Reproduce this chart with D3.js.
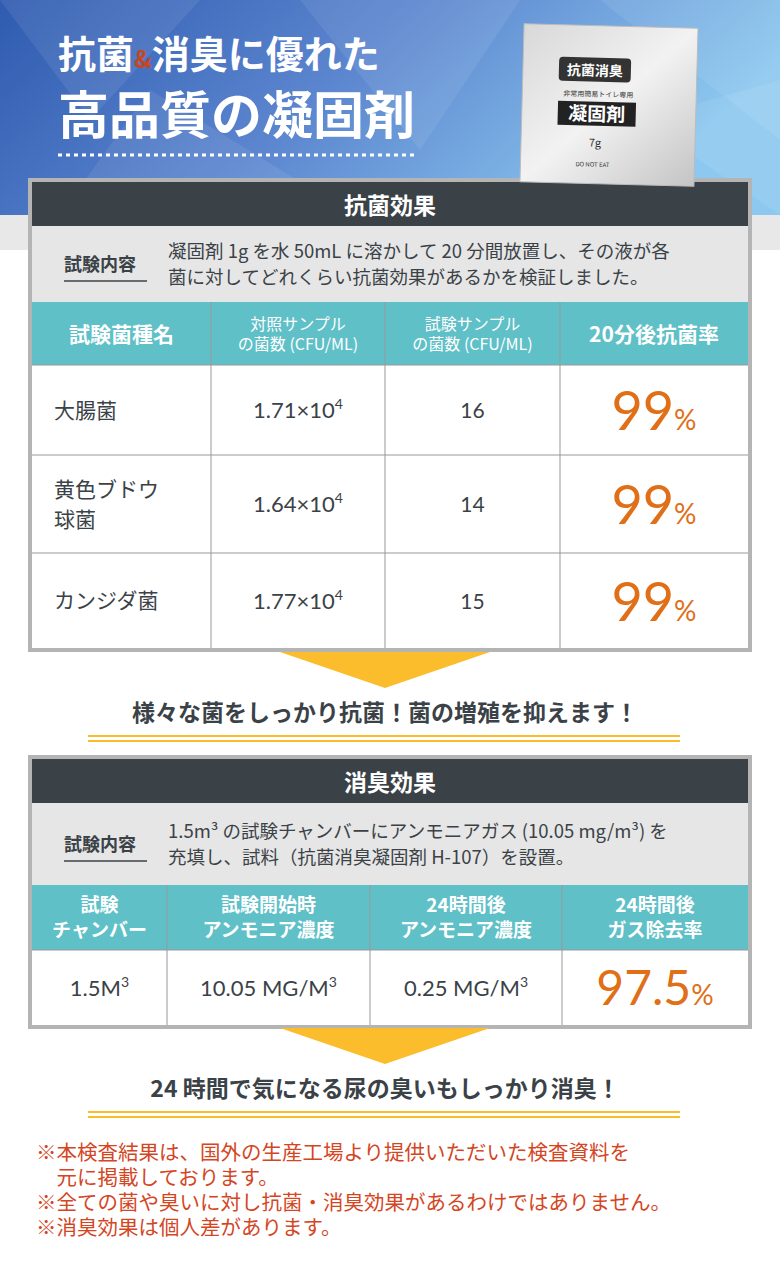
<!DOCTYPE html>
<html><head><meta charset="utf-8">
<script src="https://cdn.jsdelivr.net/npm/d3@7"></script>
<style>body{margin:0;background:#fff}svg{display:block;font-family:"Noto Sans CJK JP","Noto Sans",sans-serif}</style>
</head><body><svg id="c" width="780" height="1280"></svg>
<script>
// antibacterial table
const abHeaders = [["試験菌種名"], ["対照サンプル", "の菌数 (CFU/ML)"], ["試験サンプル", "の菌数 (CFU/ML)"], ["20分後抗菌率"]];
const bacteria = [["大腸菌"], ["黄色ブドウ", "球菌"], ["カンジダ菌"]];
const controlMantissa = ["1.71", "1.64", "1.77"];
const testCounts = ["16", "14", "15"];
const abRates = ["99", "99", "99"];
// deodorant table
const dHeaders = [["試験", "チャンバー"], ["試験開始時", "アンモニア濃度"], ["24時間後", "アンモニア濃度"], ["24時間後", "ガス除去率"]];
const dValues = ["1.5M", "10.05 MG/M", "0.25 MG/M"];
const dRate = "97.5";
const notes = ["※本検査結果は、国外の生産工場より提供いただいた検査資料を", "　元に掲載しております。", "※全ての菌や臭いに対し抗菌・消臭効果があるわけではありません。", "※消臭効果は個人差があります。"];

const svg = d3.select("#c");
const defs = svg.append("defs");
const bg = defs.append("linearGradient").attr("id", "bg").attr("x1", 0).attr("x2", 1).attr("y1", 0).attr("y2", 0.3);
bg.append("stop").attr("offset", 0).attr("stop-color", "#2f5bb0");
bg.append("stop").attr("offset", 0.5).attr("stop-color", "#5c86cf");
bg.append("stop").attr("offset", 1).attr("stop-color", "#8cc8ef");
const pk = defs.append("linearGradient").attr("id", "pk").attr("x1", 0).attr("x2", 1).attr("y1", 0).attr("y2", 1);
pk.append("stop").attr("offset", 0).attr("stop-color", "#d8d8d8");
pk.append("stop").attr("offset", 0.5).attr("stop-color", "#f2f2f2");
pk.append("stop").attr("offset", 1).attr("stop-color", "#c4c4c4");

svg.append("rect").attr("width", 780).attr("height", 250).attr("fill", "#e8e8e8");
svg.append("rect").attr("width", 780).attr("height", 215).attr("fill", "url(#bg)");
[[0,0,200,0,90,120],[300,0,520,0,420,150],[600,0,780,0,780,140],[150,90,330,200,60,215],[640,120,780,80,780,215]].forEach(p =>
  svg.append("polygon").attr("points", p.join(",")).attr("fill", "#fff").attr("opacity", 0.08));

const title1 = svg.append("text").attr("x", 58).attr("y", 68).attr("font-size", 38).attr("font-weight", 700).attr("fill", "#fff");
title1.append("tspan").text("抗菌");
title1.append("tspan").attr("fill", "#c8461e").attr("font-size", 24).text("&");
title1.append("tspan").text("消臭に優れた");
svg.append("text").attr("x", 58).attr("y", 134).attr("font-size", 51).attr("font-weight", 700).attr("fill", "#fff").text("高品質の凝固剤");
svg.append("line").attr("x1", 58).attr("x2", 416).attr("y1", 155).attr("y2", 155).attr("stroke", "#fff").attr("stroke-width", 3).attr("stroke-dasharray", "4,4");

function drawTable(y0, y1, title, descLines, descBottom, headBottom, rowEdges, colEdges) {
  svg.append("rect").attr("x", 30).attr("y", y0).attr("width", 720).attr("height", y1 - y0).attr("fill", "#fff").attr("stroke", "#b4b4b4").attr("stroke-width", 4);
  svg.append("rect").attr("x", 32).attr("y", y0 + 2).attr("width", 716).attr("height", 44).attr("fill", "#3b4247");
  svg.append("text").attr("x", 390).attr("y", y0 + 34).attr("text-anchor", "middle").attr("fill", "#fff").attr("font-size", 23).attr("font-weight", 700).text(title);
  svg.append("rect").attr("x", 32).attr("y", y0 + 46).attr("width", 716).attr("height", descBottom - y0 - 46).attr("fill", "#e6e6e6");
  const mid = (y0 + 46 + descBottom) / 2;
  svg.append("text").attr("x", 64).attr("y", mid + 7).attr("font-size", 18).attr("font-weight", 700).attr("fill", "#3b4247").text("試験内容");
  svg.append("line").attr("x1", 64).attr("x2", 147).attr("y1", mid + 17).attr("y2", mid + 17).attr("stroke", "#3b4247").attr("stroke-width", 1.5);
  descLines.forEach((t, i) => svg.append("text").attr("x", 168).attr("y", mid - 5 + (i - 0.5) * 26 + 12).attr("font-size", 18.5).attr("fill", "#3b4247").text(t));
  svg.append("rect").attr("x", 32).attr("y", descBottom).attr("width", 716).attr("height", headBottom - descBottom).attr("fill", "#5fc0c7");
  rowEdges.slice(1, -1).forEach(y => svg.append("line").attr("x1", 32).attr("x2", 748).attr("y1", y).attr("y2", y).attr("stroke", "#999"));
  colEdges.slice(1, -1).forEach(x => svg.append("line").attr("x1", x).attr("x2", x).attr("y1", descBottom).attr("y2", y1 - 2).attr("stroke", "#999"));
}
function multiline(x, yc, lines, size, color, weight, anchor, lh) {
  lines.forEach((l, i) => svg.append("text").attr("font-size", size).attr("fill", color).attr("font-weight", weight).attr("text-anchor", anchor)
    .attr("x", x).attr("y", yc + size * 0.36 + (i - (lines.length - 1) / 2) * lh).text(l));
}
function arrowAndCaption(y, text) {
  svg.append("polygon").attr("points", [[280, y], [490, y], [385, y + 36]].map(p => p.join(",")).join(" ")).attr("fill", "#fbbd2c");
  svg.append("text").attr("x", 385).attr("y", y + 69).attr("text-anchor", "middle").attr("font-size", 23).attr("font-weight", 700).attr("fill", "#3b4247").text(text);
  [y + 84, y + 89].forEach(yy => svg.append("line").attr("x1", 88).attr("x2", 680).attr("y1", yy).attr("y2", yy).attr("stroke", "#fbbd2c").attr("stroke-width", 2));
}

// table 1
const c1 = [32, 211, 385, 560, 748];
const r1 = [302, 365, 455, 553, 648];
drawTable(180, 650, "抗菌効果", ["凝固剤 1g を水 50mL に溶かして 20 分間放置し、その液が各", "菌に対してどれくらい抗菌効果があるかを検証しました。"], 302, 365, r1, c1);
const cx1 = i => (c1[i] + c1[i + 1]) / 2;
abHeaders.forEach((h, i) => multiline(cx1(i), 334, h, h.length > 1 ? 16 : 21, "#fff", h.length > 1 ? 400 : 700, "middle", 20));
const rowY = d3.scaleOrdinal().domain(d3.range(3)).range(d3.range(3).map(i => (r1[i + 1] + r1[i + 2]) / 2));
bacteria.forEach((b, i) => {
  const yc = rowY(i);
  multiline(54, yc, b, 21, "#3b4247", 400, "start", 30);
  const t = svg.append("text").attr("x", cx1(1)).attr("y", yc + 8).attr("text-anchor", "middle").attr("font-size", 22).attr("fill", "#3b4247").attr("font-family", "Lato, sans-serif");
  t.append("tspan").text(controlMantissa[i] + "×10");
  t.append("tspan").attr("dy", -9).attr("font-size", 14).text("4");
  svg.append("text").attr("x", cx1(2)).attr("y", yc + 8).attr("text-anchor", "middle").attr("font-size", 21).attr("fill", "#3b4247").attr("font-family", "Lato, sans-serif").text(testCounts[i]);
  const p = svg.append("text").attr("x", cx1(3)).attr("y", yc + 20).attr("text-anchor", "middle").attr("fill", "#e06f17").attr("font-family", "Lato, sans-serif");
  p.append("tspan").attr("font-size", 54).text(abRates[i]);
  p.append("tspan").attr("font-size", 28).text("%");
});
arrowAndCaption(652, "様々な菌をしっかり抗菌！菌の増殖を抑えます！");

// table 2
const c2 = [32, 167, 370, 562, 748];
const r2 = [885, 950, 1025];
drawTable(757, 1027, "消臭効果", ["1.5m³ の試験チャンバーにアンモニアガス (10.05 mg/m³) を", "充填し、試料（抗菌消臭凝固剤 H-107）を設置。"], 885, 950, r2, c2);
const cx2 = i => (c2[i] + c2[i + 1]) / 2;
dHeaders.forEach((h, i) => multiline(cx2(i), 918, h, 19, "#fff", 700, "middle", 25));
dValues.forEach((v, i) => {
  const t = svg.append("text").attr("x", cx2(i)).attr("y", 996).attr("text-anchor", "middle").attr("font-size", 22).attr("fill", "#3b4247").attr("font-family", "Lato, sans-serif");
  t.append("tspan").text(v);
  t.append("tspan").attr("dy", -9).attr("font-size", 14).text("3");
});
const p2 = svg.append("text").attr("x", cx2(3)).attr("y", 1005).attr("text-anchor", "middle").attr("fill", "#e06f17").attr("font-family", "Lato, sans-serif");
p2.append("tspan").attr("font-size", 48).text(dRate);
p2.append("tspan").attr("font-size", 28).text("%");
arrowAndCaption(1028, "24 時間で気になる尿の臭いもしっかり消臭！");

notes.forEach((n, i) => svg.append("text").attr("x", 36).attr("y", 1160 + i * 25).attr("font-size", 20.5).attr("fill", "#d4461f").text(n));

// package
const g = svg.append("g").attr("transform", "rotate(1.5,608,105)");
g.append("rect").attr("x", 522).attr("y", 26).attr("width", 174).attr("height", 158).attr("fill", "url(#pk)").attr("stroke", "#bbb");
g.append("rect").attr("x", 558).attr("y", 58).attr("width", 72).attr("height", 24).attr("rx", 4).attr("fill", "#333");
g.append("text").attr("x", 594).attr("y", 76).attr("text-anchor", "middle").attr("fill", "#fff").attr("font-size", 14).attr("font-weight", 700).text("抗菌消臭");
g.append("text").attr("x", 598).attr("y", 97).attr("text-anchor", "middle").attr("fill", "#333").attr("font-size", 7).text("非常用簡易トイレ専用");
g.append("rect").attr("x", 558).attr("y", 102).attr("width", 78).attr("height", 24).attr("fill", "#222");
g.append("text").attr("x", 597).attr("y", 121).attr("text-anchor", "middle").attr("fill", "#fff").attr("font-size", 19).attr("font-weight", 700).text("凝固剤");
g.append("text").attr("x", 596).attr("y", 147).attr("text-anchor", "middle").attr("fill", "#333").attr("font-size", 11).text("7g");
g.append("text").attr("x", 594).attr("y", 167).attr("text-anchor", "middle").attr("fill", "#333").attr("font-size", 6).text("DO NOT EAT");
</script></body></html>
